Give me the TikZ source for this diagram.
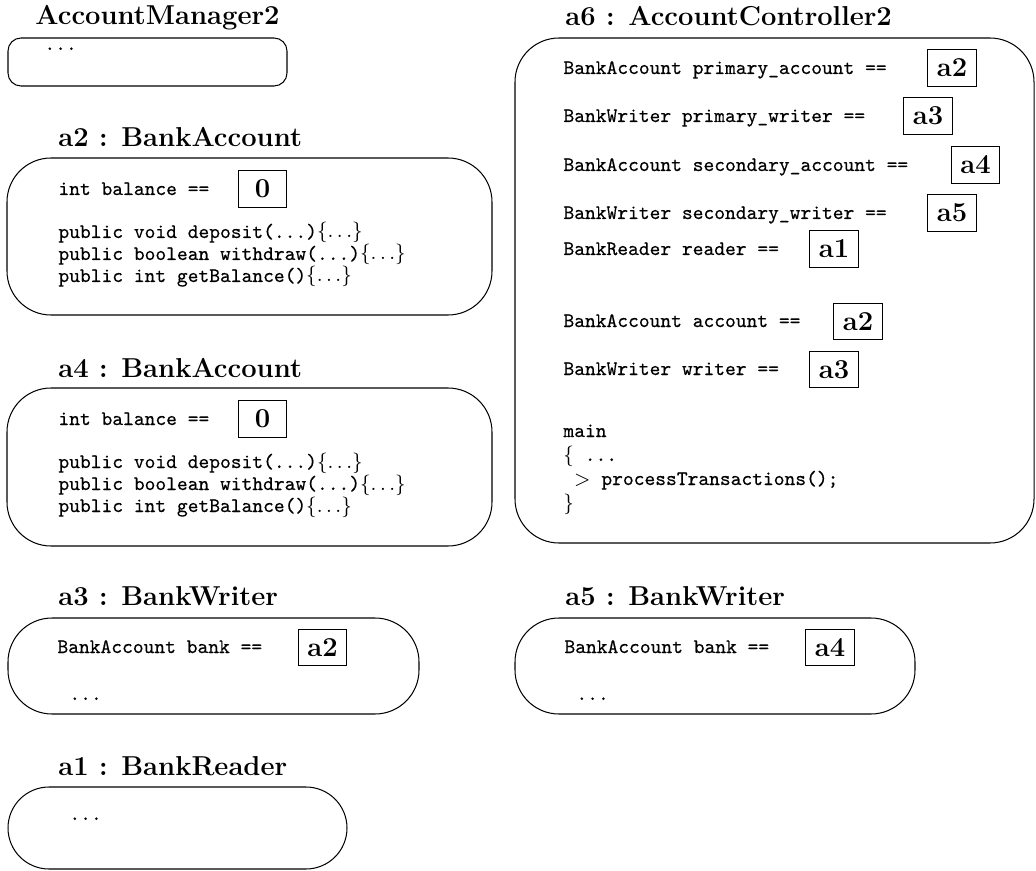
\documentclass[tikz,border=0pt]{standalone}
\usepackage{fontspec}
\setmonofont{lmmono10-regular.otf}[FakeBold=0.4]
\tikzset{
  oval/.style={draw, line width=0.45pt},
  title/.style={anchor=base west, inner sep=0pt, font=\large\bfseries},
  code/.style={anchor=base west, inner sep=0pt, font=\small\ttfamily},
  valbox/.style={draw, line width=0.45pt, inner sep=0pt, minimum width=21.2pt, minimum height=15.9pt, font=\large\bfseries},
}
\begin{document}
\begin{tikzpicture}[x=0.4386pt, y=-0.4386pt]
\useasboundingbox (0,0) rectangle (1036,871);

% AccountManager2
\node[title] (tAM) at (35,25) {AccountManager2};
\draw[oval, rounded corners=5.7pt] (8,38) rectangle (287,86);
\node[code] (dAM) at (44,50) {...};

% a2 : BankAccount
\node[title] (ta2) at (58,147) {a2 : BankAccount};
\draw[oval, rounded corners=19.3pt] (7,158) rectangle (492,315);
\node[code] (b2) at (58,195) {int balance ==};
\node[valbox] (v2) at (262.5,189) {0};
\node[code] (m2a) at (58,238) {public void deposit(...)$\{\ldots\}$};
\node[code] (m2b) at (58,260) {public boolean withdraw(...)$\{\ldots\}$};
\node[code] (m2c) at (58,282) {public int getBalance()$\{\ldots\}$};

% a4 : BankAccount
\node[title] (ta4) at (58,377) {a4 : BankAccount};
\draw[oval, rounded corners=19.3pt] (7,388) rectangle (492,546);
\node[code] (b4) at (58,425) {int balance ==};
\node[valbox] (v4) at (262.5,419) {0};
\node[code] (m4a) at (58,468) {public void deposit(...)$\{\ldots\}$};
\node[code] (m4b) at (58,490) {public boolean withdraw(...)$\{\ldots\}$};
\node[code] (m4c) at (58,512) {public int getBalance()$\{\ldots\}$};

% a3 : BankWriter
\node[title] (ta3) at (58,605) {a3 : BankWriter};
\draw[oval, rounded corners=19.3pt] (8,618) rectangle (419,714);
\node[code] (k3) at (57,653) {BankAccount bank ==};
\node[valbox] (v3) at (322.5,647.5) {a2};
\node[code] (d3) at (69,700) {...};

% a1 : BankReader
\node[title] (ta1) at (58,775) {a1 : BankReader};
\draw[oval, rounded corners=18pt] (8,787) rectangle (347,869);
\node[code] (d1) at (69,820) {...};

% a5 : BankWriter
\node[title] (ta5) at (565,605) {a5 : BankWriter};
\draw[oval, rounded corners=19.3pt] (515,618) rectangle (915,714);
\node[code] (k5) at (564,653) {BankAccount bank ==};
\node[valbox] (v5) at (830,647.5) {a4};
\node[code] (d5) at (576,700) {...};

% a6 : AccountController2
\node[title] (ta6) at (565,26) {a6 : AccountController2};
\draw[oval, rounded corners=19.3pt] (515,38) rectangle (1034,543);
\node[code] (r1) at (563,74) {BankAccount primary\_account ==};
\node[valbox] (w1) at (952,68) {a2};
\node[code] (r2) at (563,122) {BankWriter primary\_writer ==};
\node[valbox] (w2) at (928,116) {a3};
\node[code] (r3) at (563,171) {BankAccount secondary\_account ==};
\node[valbox] (w3) at (975.5,165) {a4};
\node[code] (r4) at (563,219) {BankWriter secondary\_writer ==};
\node[valbox] (w4) at (952,213) {a5};
\node[code] (r5) at (563,255) {BankReader reader ==};
\node[valbox] (w5) at (834,249) {a1};
\node[code] (r6) at (563,327) {BankAccount account ==};
\node[valbox] (w6) at (858,321.5) {a2};
\node[code] (r7) at (563,375) {BankWriter writer ==};
\node[valbox] (w7) at (834,369.5) {a3};
\node[code] (mn1) at (563,437) {main};
\node[code] (mn2) at (563,461) {$\{$ ...};
\node[code] (mn3) at (563,485) {\ $>$ processTransactions();};
\node[code] (mn4) at (563,509) {$\}$};
\end{tikzpicture}
\end{document}
